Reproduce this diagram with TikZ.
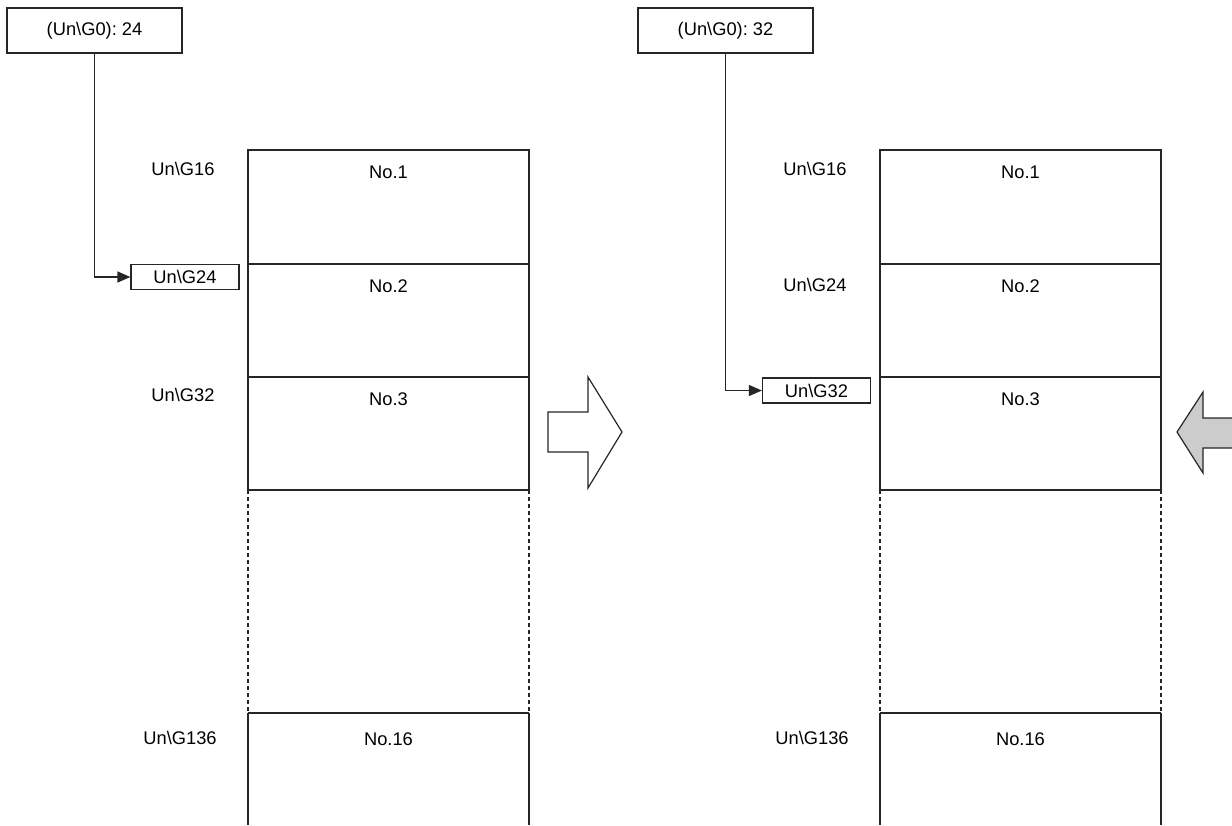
\documentclass[tikz,border=0pt]{standalone}
\usepackage{fontspec}
\setmainfont{Liberation Sans}
\usetikzlibrary{arrows.meta}
\frenchspacing
\begin{document}
\begin{tikzpicture}[x=1pt,y=-1pt,
  ln/.style={line width=1.2pt,draw=black!85},
  txt/.style={font=\fontsize{18.3}{20}\selectfont,inner sep=0pt},
  regbox/.style={ln,draw,font=\fontsize{18.3}{20}\selectfont,inner sep=0pt,minimum width=175pt,minimum height=45pt},
  ptrbox/.style={ln,draw,font=\fontsize{18.3}{20}\selectfont,inner sep=0pt,minimum width=108pt,minimum height=25pt},
  conn/.style={ln,-{Triangle[length=13pt,width=11pt]}},
  dsh/.style={ln,dash pattern=on 4pt off 3pt}]
\useasboundingbox (0,0) rectangle (1232,825);

% ---------- left panel ----------
\node[regbox] (topL) at (94.5,30.5) {(Un\textbackslash G0): 24};
\node[ptrbox] (pL) at (185,277) {Un\textbackslash G24};
\draw[conn] (topL.south) |- (pL.west);

\draw[ln] (248,490) -- (248,150) -- (529,150) -- (529,490);
\draw[ln] (248,264) -- (529,264) (248,377) -- (529,377) (248,490) -- (529,490) (248,713) -- (529,713);
\draw[dsh] (248,490) -- (248,713) (529,490) -- (529,713);
\draw[ln] (248,713) -- (248,825) (529,713) -- (529,825);

\node[txt] (l16) at (183,169) {Un\textbackslash G16};
\node[txt] (l32) at (183,395) {Un\textbackslash G32};
\node[txt] (l136) at (180,738) {Un\textbackslash G136};
\node[txt] (n1L) at (388.5,172) {No.1};
\node[txt] (n2L) at (388.5,286) {No.2};
\node[txt] (n3L) at (388.5,399) {No.3};
\node[txt] (n16L) at (388.5,739) {No.16};

% hollow arrow
\draw[ln,fill=white] (548,412) -- (588,412) -- (588,377) -- (622,432) -- (588,488) -- (588,452) -- (548,452) -- cycle;

% ---------- right panel ----------
\node[regbox] (topR) at (725.5,30.5) {(Un\textbackslash G0): 32};
\node[ptrbox] (pR) at (816.5,390.5) {Un\textbackslash G32};
\draw[conn] (topR.south) |- (pR.west);

\draw[ln] (880,490) -- (880,150) -- (1161,150) -- (1161,490);
\draw[ln] (880,264) -- (1161,264) (880,377) -- (1161,377) (880,490) -- (1161,490) (880,713) -- (1161,713);
\draw[dsh] (880,490) -- (880,713) (1161,490) -- (1161,713);
\draw[ln] (880,713) -- (880,825) (1161,713) -- (1161,825);

\node[txt] (r16) at (815,169) {Un\textbackslash G16};
\node[txt] (r24) at (815,285) {Un\textbackslash G24};
\node[txt] (r136) at (812,738) {Un\textbackslash G136};
\node[txt] (n1R) at (1020.5,172) {No.1};
\node[txt] (n2R) at (1020.5,286) {No.2};
\node[txt] (n3R) at (1020.5,399) {No.3};
\node[txt] (n16R) at (1020.5,739) {No.16};

% gray arrow
\draw[ln,fill=black!20] (1240,418) -- (1203,418) -- (1203,392) -- (1177,432) -- (1203,473) -- (1203,448) -- (1240,448);
\end{tikzpicture}
\end{document}
